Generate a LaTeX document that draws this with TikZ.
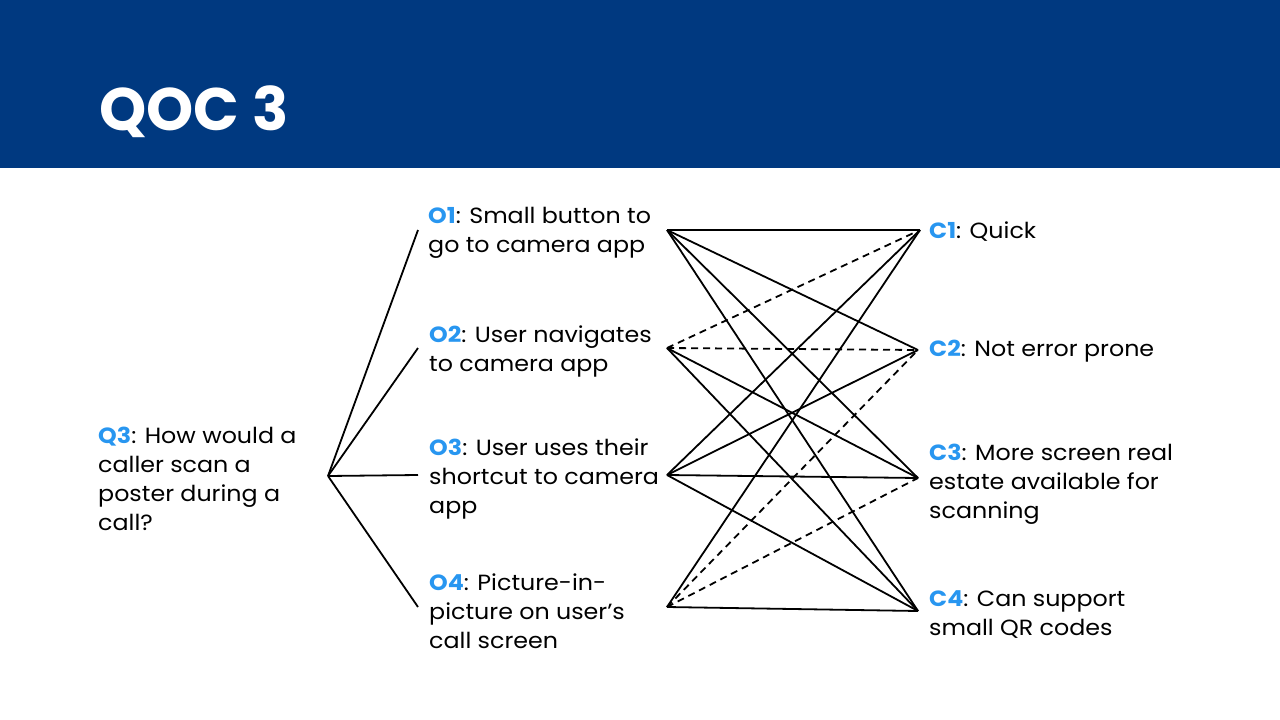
\documentclass[tikz,border=0pt]{standalone}
\usepackage{fontspec}
\setmainfont{Poppins}[FakeStretch=1.08]
\newfontfamily\titlefont{Poppins}
\definecolor{hdr}{RGB}{0,57,128}
\definecolor{lbl}{RGB}{40,150,240}
\begin{document}
\begin{tikzpicture}[x=1pt,y=-1pt,
  txt/.style={anchor=west,align=left,inner sep=0pt,font=\fontsize{22}{29}\selectfont},
  conn/.style={line width=1.8pt,black},
  dconn/.style={conn,dash pattern=on 7pt off 5pt}]
\useasboundingbox (0,0) rectangle (1280,720);
\fill[hdr] (0,0) rectangle (1280,168);
\node[anchor=base west,inner sep=0pt,text=white,font=\titlefont\fontsize{60}{60}\selectfont\bfseries] (title) at (99,130) {QOC 3};
\node[txt] (q3) at (98,479) {\textcolor{lbl}{\textbf{Q3}}: How would a\\caller scan a\\poster during a\\call?};
\node[txt] (o1) at (428,233) {\textcolor{lbl}{\textbf{O1}}: Small button to\\go to camera app};
\node[txt] (o2) at (429,351) {\textcolor{lbl}{\textbf{O2}}: User navigates\\to camera app};
\node[txt] (o3) at (429,479) {\textcolor{lbl}{\textbf{O3}}: User uses their\\shortcut to camera\\app};
\node[txt] (o4) at (429,611) {\textcolor{lbl}{\textbf{O4}}: Picture-in-\\picture on user’s\\call screen};
\node[txt] (c1) at (929,232) {\textcolor{lbl}{\textbf{C1}}: Quick};
\node[txt] (c2) at (929,351) {\textcolor{lbl}{\textbf{C2}}: Not error prone};
\node[txt] (c3) at (929,484) {\textcolor{lbl}{\textbf{C3}}: More screen real\\estate available for\\scanning};
\node[txt] (c4) at (929,615) {\textcolor{lbl}{\textbf{C4}}: Can support\\small QR codes};
\coordinate (root) at (328,476);
\coordinate (o1a) at (418,230);
\coordinate (o2a) at (418,348);
\coordinate (o3a) at (418,475);
\coordinate (o4a) at (418,607);
\coordinate (o1b) at (667,230);
\coordinate (o2b) at (667,348);
\coordinate (o3b) at (667,475);
\coordinate (o4b) at (667,607);
\coordinate (c1a) at (920,230);
\coordinate (c2a) at (918,350);
\coordinate (c3a) at (918,478);
\coordinate (c4a) at (918,611);
\foreach \o in {o1a,o2a,o3a,o4a} \draw[conn] (root) -- (\o);
\foreach \c in {c1a,c2a,c3a,c4a} \draw[conn] (o1b) -- (\c);
\draw[dconn] (o2b) -- (c1a);
\draw[dconn] (o2b) -- (c2a);
\draw[conn] (o2b) -- (c3a);
\draw[conn] (o2b) -- (c4a);
\foreach \c in {c1a,c2a,c3a,c4a} \draw[conn] (o3b) -- (\c);
\draw[conn] (o4b) -- (c1a);
\draw[dconn] (o4b) -- (c2a);
\draw[dconn] (o4b) -- (c3a);
\draw[conn] (o4b) -- (c4a);
\end{tikzpicture}
\end{document}
